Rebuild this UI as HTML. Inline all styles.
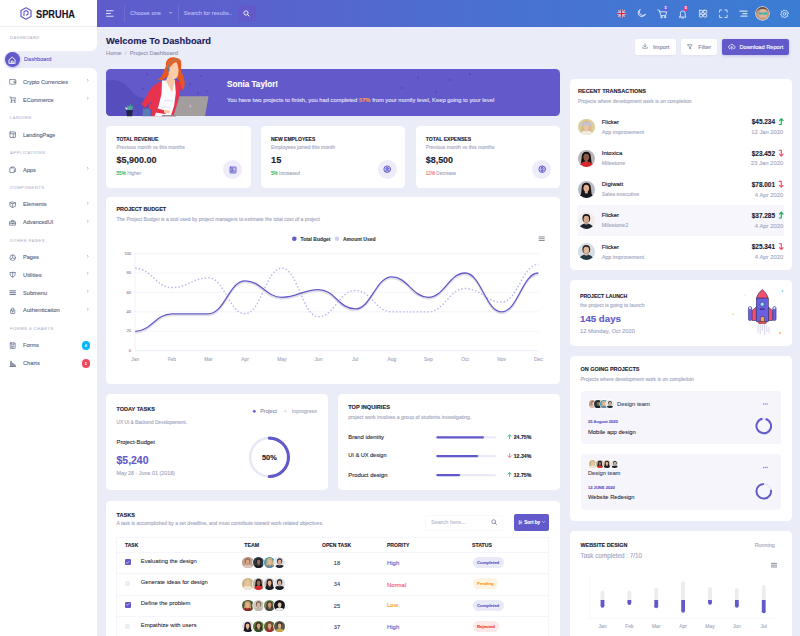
<!DOCTYPE html>
<html><head><meta charset="utf-8">
<style>
*{margin:0;padding:0;box-sizing:border-box}
html,body{width:800px;height:636px;overflow:hidden}
body{background:#eaedf7;font-family:"Liberation Sans",sans-serif;position:relative;color:#1d212f}
.a{position:absolute}
.t{position:absolute;white-space:nowrap;line-height:1;-webkit-text-stroke:.12px currentColor}
.card{position:absolute;background:#fff;border-radius:4.5px}
svg{position:absolute;overflow:visible}
.av{position:absolute;border-radius:50%;overflow:hidden}
</style></head><body>

<!-- SIDEBAR -->
<div class="a" style="left:0;top:0;width:97px;height:636px;background:#fff"></div>
<div class="a" style="left:5px;top:50.500px;width:92px;height:17.500px;background:#eaedf7;border-radius:9px 0 0 9px"></div>
<div class="a" style="left:90px;top:43.500px;width:7px;height:7px;background:#eaedf7"></div>
<div class="a" style="left:90px;top:43.500px;width:7px;height:7px;background:#fff;border-bottom-right-radius:6.500px"></div>
<div class="a" style="left:90px;top:68px;width:7px;height:7px;background:#eaedf7"></div>
<div class="a" style="left:90px;top:68px;width:7px;height:7px;background:#fff;border-top-right-radius:6.500px"></div>
<div class="a" style="left:0;top:26px;width:97px;height:1px;background:#eef0f6"></div>
<svg style="left:20px;top:7px" width="12" height="13" viewBox="0 0 24 26"><path d="M12 1.5 22 7v12l-10 5.5L2 19V7z" fill="none" stroke="#6259ca" stroke-width="2.4" stroke-linejoin="round"/><path d="M8 18V9.500l4-2.300 4 2.300v5l-4 2.200" fill="none" stroke="#6259ca" stroke-width="2.200" stroke-linejoin="round"/></svg>
<div class="a" style="left:5px;top:52.400px;width:14.800px;height:14.800px;border-radius:50%;background:#6259ca;box-shadow:0 1px 3px rgba(98,89,202,.45)"></div>
<svg style="left:8.200px;top:55.600px" width="8.400" height="8.400" viewBox="0 0 16 16" fill="none" stroke="#fff" stroke-width="1.700" stroke-linejoin="round" stroke-linecap="round"><path d="M2.500 7 8 2.200 13.500 7v7h-11z"/><path d="M6.300 14v-4.200h3.400V14"/></svg>
<div class="a" style="left:81.500px;top:341.300px;width:8.500px;height:8.500px;border-radius:50%;background:#01b8ff"></div>
<div class="a" style="left:81.500px;top:359.300px;width:8.500px;height:8.500px;border-radius:50%;background:#f4475e"></div>
<svg style="left:8.50px;top:78.30px" width="7.40" height="7.40" viewBox="0 0 24 24" fill="none" stroke="#5c6883" stroke-width="2.200" stroke-linejoin="round" stroke-linecap="round"><rect x="2" y="5" width="20" height="15" rx="2"/><path d="M22 10h-6v5h6"/></svg>
<svg style="left:8.50px;top:96.30px" width="7.40" height="7.40" viewBox="0 0 24 24" fill="none" stroke="#5c6883" stroke-width="2.200" stroke-linejoin="round" stroke-linecap="round"><path d="M3 3h3l2 11h11l2-8H7"/><path d="M8 14v6M19 14v6M6 20h4M17 20h4"/></svg>
<svg style="left:8.50px;top:131.05px" width="7.40" height="7.40" viewBox="0 0 24 24" fill="none" stroke="#5c6883" stroke-width="2.200" stroke-linejoin="round" stroke-linecap="round"><rect x="3" y="3" width="18" height="18" rx="1"/><path d="M3 9h18M14 9v12"/></svg>
<svg style="left:8.50px;top:166.05px" width="7.40" height="7.40" viewBox="0 0 24 24" fill="none" stroke="#5c6883" stroke-width="2.200" stroke-linejoin="round" stroke-linecap="round"><path d="M8 6V3h8l5 5v10h-4"/><path d="M4 6h10l3 3v12H4z"/></svg>
<svg style="left:8.50px;top:200.80px" width="7.40" height="7.40" viewBox="0 0 24 24" fill="none" stroke="#5c6883" stroke-width="2.200" stroke-linejoin="round" stroke-linecap="round"><path d="M12 3l9 3v11l-9 4-9-4V6z"/><path d="M3 6l9 3 9-3M12 9v12"/></svg>
<svg style="left:8.50px;top:218.55px" width="7.40" height="7.40" viewBox="0 0 24 24" fill="none" stroke="#5c6883" stroke-width="2.200" stroke-linejoin="round" stroke-linecap="round"><path d="M3 9h18v11H3z"/><path d="M8 9V5h8v4M3 14h18M10 14v2h4v-2"/></svg>
<svg style="left:8.50px;top:253.55px" width="7.40" height="7.40" viewBox="0 0 24 24" fill="none" stroke="#5c6883" stroke-width="2.200" stroke-linejoin="round" stroke-linecap="round"><circle cx="12" cy="12" r="9"/><path d="M12 3v9l7 5M12 12l-7 5"/></svg>
<svg style="left:8.50px;top:271.30px" width="7.40" height="7.40" viewBox="0 0 24 24" fill="none" stroke="#5c6883" stroke-width="2.200" stroke-linejoin="round" stroke-linecap="round"><path d="M12 3v18M4 5v6c0 5 4 8 8 8s8-3 8-8V5M4 5h16"/></svg>
<svg style="left:8.50px;top:289.05px" width="7.40" height="7.40" viewBox="0 0 24 24" fill="none" stroke="#5c6883" stroke-width="2.200" stroke-linejoin="round" stroke-linecap="round"><path d="M3 6h18M3 12h18M3 18h18" stroke-width="3"/></svg>
<svg style="left:8.50px;top:306.80px" width="7.40" height="7.40" viewBox="0 0 24 24" fill="none" stroke="#5c6883" stroke-width="2.200" stroke-linejoin="round" stroke-linecap="round"><rect x="5" y="10" width="14" height="11" rx="2"/><path d="M8 10V7a4 4 0 0 1 8 0v3"/><circle cx="12" cy="15.500" r="1.300"/></svg>
<svg style="left:8.50px;top:341.80px" width="7.40" height="7.40" viewBox="0 0 24 24" fill="none" stroke="#5c6883" stroke-width="2.200" stroke-linejoin="round" stroke-linecap="round"><rect x="4" y="3" width="16" height="18" rx="1"/><path d="M8 3v6h8V3M8 14h8M8 17h5"/></svg>
<svg style="left:8.50px;top:359.80px" width="7.40" height="7.40" viewBox="0 0 24 24" fill="none" stroke="#5c6883" stroke-width="2.200" stroke-linejoin="round" stroke-linecap="round"><path d="M3 21h18M5 21V4h3v17M11 21V10h3v11M17 21v-6h3v6"/></svg>
<svg style="left:87.20px;top:79.40px" width="1.80" height="2.70" viewBox="0 0 4 6" ><path d="M.8.8 3 3 .8 5.200" fill="none" stroke="#8a93ab" stroke-width="1.300" stroke-linecap="round" stroke-linejoin="round"/></svg>
<svg style="left:87.20px;top:97.40px" width="1.80" height="2.70" viewBox="0 0 4 6" ><path d="M.8.8 3 3 .8 5.200" fill="none" stroke="#8a93ab" stroke-width="1.300" stroke-linecap="round" stroke-linejoin="round"/></svg>
<svg style="left:87.20px;top:167.20px" width="1.80" height="2.70" viewBox="0 0 4 6" ><path d="M.8.8 3 3 .8 5.200" fill="none" stroke="#8a93ab" stroke-width="1.300" stroke-linecap="round" stroke-linejoin="round"/></svg>
<svg style="left:87.20px;top:201.90px" width="1.80" height="2.70" viewBox="0 0 4 6" ><path d="M.8.8 3 3 .8 5.200" fill="none" stroke="#8a93ab" stroke-width="1.300" stroke-linecap="round" stroke-linejoin="round"/></svg>
<svg style="left:87.20px;top:219.70px" width="1.80" height="2.70" viewBox="0 0 4 6" ><path d="M.8.8 3 3 .8 5.200" fill="none" stroke="#8a93ab" stroke-width="1.300" stroke-linecap="round" stroke-linejoin="round"/></svg>
<svg style="left:87.20px;top:254.70px" width="1.80" height="2.70" viewBox="0 0 4 6" ><path d="M.8.8 3 3 .8 5.200" fill="none" stroke="#8a93ab" stroke-width="1.300" stroke-linecap="round" stroke-linejoin="round"/></svg>
<svg style="left:87.20px;top:272.40px" width="1.80" height="2.70" viewBox="0 0 4 6" ><path d="M.8.8 3 3 .8 5.200" fill="none" stroke="#8a93ab" stroke-width="1.300" stroke-linecap="round" stroke-linejoin="round"/></svg>
<svg style="left:87.20px;top:290.20px" width="1.80" height="2.70" viewBox="0 0 4 6" ><path d="M.8.8 3 3 .8 5.200" fill="none" stroke="#8a93ab" stroke-width="1.300" stroke-linecap="round" stroke-linejoin="round"/></svg>
<svg style="left:87.20px;top:307.90px" width="1.80" height="2.70" viewBox="0 0 4 6" ><path d="M.8.8 3 3 .8 5.200" fill="none" stroke="#8a93ab" stroke-width="1.300" stroke-linecap="round" stroke-linejoin="round"/></svg>


<!-- HEADER -->
<div class="a" style="left:97px;top:0;width:703px;height:26.500px;background:linear-gradient(90deg,#5f5bcc 0%,#5963ce 25%,#4872d2 60%,#3b7dd3 100%)"></div>
<svg style="left:106.00px;top:9.90px" width="8.00" height="7.00" viewBox="0 0 16 14" ><path d="M0 1.500h15M0 7h10M0 12.500h15" stroke="#e6ebfb" stroke-width="1.800" fill="none"/></svg>
<div class="a" style="left:124.200px;top:4.500px;width:.6px;height:17px;background:rgba(255,255,255,.1)"></div><div class="a" style="left:177.800px;top:4.500px;width:.6px;height:17px;background:rgba(255,255,255,.1)"></div><svg style="left:169.30px;top:12.40px" width="3.40" height="2.00" viewBox="0 0 10 6" ><path d="M0 0h10L5 6z" fill="#aaa6e8"/></svg>
<div class="a" style="left:237.500px;top:4.500px;width:18px;height:16.800px;background:#6259ca;border-radius:0 1.500px 1.500px 0"></div><svg style="left:243.20px;top:9.90px" width="6.80" height="6.80" viewBox="0 0 16 16" ><circle cx="7" cy="7" r="5" fill="none" stroke="#fff" stroke-width="2"/><path d="M10.800 10.800 14.500 14.500" stroke="#fff" stroke-width="2.200" stroke-linecap="round"/></svg>
<div class="av" style="left:616.600px;top:8.900px;width:9.200px;height:9.200px;background:rgba(60,80,180,.35)"><svg style="left:0;top:0" width="9.200" height="9.200" viewBox="0 0 20 20"><path d="M2 2 18 18M18 2 2 18" stroke="#e9ecf8" stroke-width="2.600"/><path d="M2 2 18 18M18 2 2 18" stroke="#e8435a" stroke-width=".9"/><path d="M10 0v20M0 10h20" stroke="#f0f2fb" stroke-width="4.600"/><path d="M10 0v20M0 10h20" stroke="#ee1f3a" stroke-width="2.900"/></svg></div><svg style="left:0;top:0" width="800" height="28" viewBox="0 0 800 28" fill="none" stroke="rgba(255,255,255,.74)" stroke-width="1" stroke-linecap="round" stroke-linejoin="round"><path d="M645.300 14.500A3.750 3.750 0 1 1 640.300 9.500 3.100 3.100 0 0 0 645.300 14.500z"/><path d="M657.700 10.100h1.600l1.600 5.500h4.700l1.100-3.800h-6.900"/><circle cx="661.400" cy="17.100" r=".7"/><circle cx="665" cy="17.100" r=".7"/><path d="M680.400 16.200v-2.900a2.400 2.400 0 0 1 4.800 0v2.900l.9.900h-6.600z"/><path d="M682 18h1.600"/><rect x="699.4" y="10.3" width="3.100" height="2.800" rx=".4"/><rect x="699.4" y="14.2" width="3.100" height="2.800" rx=".4"/><rect x="703.6" y="10.3" width="3.100" height="2.800" rx=".4"/><rect x="703.6" y="14.2" width="3.100" height="2.800" rx=".4"/><path d="M719.600 12.200V10h2.200M724.900 10h2.200v2.200M727.100 15.300v2.200h-2.200M721.800 17.500h-2.200v-2.200"/><path d="M739.800 11.100h7.300M742.800 13.600h4.300M740.800 16.100h6.300" stroke-width="1.050"/><path d="M788.33 13.14L788.40 13.90L787.49 14.50L787.32 15.07L787.74 16.07L787.26 16.66L786.19 16.44L785.67 16.72L785.26 17.73L784.50 17.80L783.90 16.89L783.33 16.72L782.33 17.14L781.74 16.66L781.96 15.59L781.68 15.07L780.67 14.66L780.60 13.90L781.51 13.30L781.68 12.73L781.26 11.73L781.74 11.14L782.81 11.36L783.33 11.08L783.74 10.07L784.50 10.00L785.10 10.91L785.67 11.08L786.67 10.66L787.26 11.14L787.04 12.21L787.32 12.73z" stroke-width=".9"/><circle cx="784.500" cy="13.900" r="1.350" stroke-width=".9"/></svg><div class="a" style="left:663.100px;top:5.600px;width:5px;height:5px;border-radius:50%;background:#6f55e0"></div><div class="a" style="left:683.400px;top:5.600px;width:5px;height:5px;border-radius:50%;background:#f1388b"></div><div class="av" style="left:755.800px;top:6.700px;width:13.300px;height:13.300px;background:#c9a88e;box-shadow:0 0 0 .7px rgba(255,255,255,.85)"><svg style="left:0;top:0" width="13.300" height="13.300" viewBox="0 0 20 20"><rect width="20" height="20" fill="#b89a86"/><path d="M0 0h20v9c-2-5-5-6.500-10-6.500S2 4 0 9z" fill="#6b4630"/><ellipse cx="10.500" cy="11" rx="6.500" ry="8" fill="#e0b193"/><path d="M4 8.500c2-1 4.500-1 6 .2 1.500-1.200 4.500-1.200 7-.2l-.5 2.800c-2 .8-4.500.6-6-.8-1.500 1.400-4 1.600-6 .8z" fill="#3fb5b0"/><path d="M7 16c2 1.500 5 1.500 7 0" stroke="#b07a62" stroke-width="1" fill="none"/></svg></div>

<!-- BUTTONS -->
<div class="card" style="left:635px;top:38.500px;width:41px;height:16.500px;border-radius:2px;box-shadow:0 1px 2px rgba(160,165,200,.12)"></div>
<div class="card" style="left:680.500px;top:38.500px;width:36.500px;height:16.500px;border-radius:2px;box-shadow:0 1px 2px rgba(160,165,200,.12)"></div>
<div class="card" style="left:722px;top:38.500px;width:67px;height:16.500px;border-radius:2px;background:#6259ca;box-shadow:0 1px 3px rgba(98,89,202,.3)"></div>
<svg style="left:641.60px;top:43.40px" width="6.00" height="6.00" viewBox="0 0 24 24" fill="none" stroke="#5d6284" stroke-width="2.300" stroke-linecap="round" stroke-linejoin="round"><path d="M12 3v12M7 10l5 5 5-5M3 17v4h18v-4"/></svg>
<svg style="left:687.20px;top:43.60px" width="6.00" height="6.00" viewBox="0 0 24 24" fill="none" stroke="#5d6284" stroke-width="2.300" stroke-linecap="round" stroke-linejoin="round"><path d="M3 3h18l-7 9v8l-4-2v-6z"/></svg>
<svg style="left:727.60px;top:42.80px" width="7.60" height="7.60" viewBox="0 0 24 24" fill="none" stroke="#fff" stroke-width="2.200" stroke-linecap="round" stroke-linejoin="round"><path d="M7 18a5 5 0 0 1-.5-10A6 6 0 0 1 18 9a4.500 4.500 0 0 1 0 9h-1"/><path d="M12 20v-8M9 14.500l3-3 3 3"/></svg>


<!-- BANNER -->
<div class="a" style="left:106px;top:68.750px;width:453.500px;height:47.500px;border-radius:4.500px;background:#6259ca;overflow:hidden">
  <svg style="left:0;top:0" width="120" height="48" viewBox="0 0 120 48"><path d="M0 12c6-2 14-1 20 4s8 12 17 13 10 9 12 19H0z" fill="#564ebc"/></svg>
</div>
<svg style="left:0;top:0" width="800" height="636" viewBox="0 0 800 636"><circle cx="147.0" cy="74.5" r=".9" fill="#5149b3"/><circle cx="143.0" cy="88.5" r=".9" fill="#5149b3"/><circle cx="198.0" cy="93.0" r=".9" fill="#5149b3"/><circle cx="201.0" cy="76.0" r=".9" fill="#5149b3"/><circle cx="207.0" cy="91.5" r=".9" fill="#5149b3"/><circle cx="190.0" cy="84.5" r=".9" fill="#5149b3"/><circle cx="418.0" cy="77.5" r=".9" fill="#5149b3"/><circle cx="450.0" cy="80.0" r=".9" fill="#5149b3"/><circle cx="436.0" cy="92.0" r=".9" fill="#5149b3"/><circle cx="470.0" cy="74.0" r=".9" fill="#5149b3"/><circle cx="402.0" cy="88.0" r=".9" fill="#5149b3"/><path d="M126.200 110h6.600l-.7 6.200h-5.200z" fill="#1f2249"/><path d="M127 110l-1.700-3.200 2 .6.300-2.600 1.600 2.200 1.200-3.400 1 3.200 1.800-1-1 4.200z" fill="#4ea69a"/><path d="M126.500 110l-1.600-2.800 2.600 1z" fill="#e9eef5"/><path d="M143 108.500h7.200l.4 7.700h-8z" fill="#5b7bb4"/><path d="M144.500 108.500c0-4 4.400-4 4.400 0" fill="none" stroke="#3c4a86" stroke-width=".7"/><path d="M166 66c-1-6 4-9.500 9-8.500s7 5 6 10c-.5 4 2 7 3 11s1 9-1 11.500c-2-3-3-6-3.500-9.500l-5-4-8 .5c-2 2.500-5 3.500-9 3 2-2 4-3 5-5.500s2-5 3.500-8.500z" fill="#e8561f"/><path d="M161 81l-7 4.500c-3 2-5 6-7.500 10.500l-5 8 3.500 4 7-7.500-1 15.700h25l3-20 2-8c.5-3-.5-6-3-7.500z" fill="#e8334f"/><path d="M162 80.500L174.800 80.500 175.800 93 174.200 105.500 170.700 116.200H154.500L158.500 106 161.500 94z" fill="#fbfbfd"/><path d="M164 101c3-1 6-1 9 .5M161 108c3-1.500 7-1.500 10 0" stroke="#dfe6f3" stroke-width="1.200" fill="none"/><path d="M169 74l-3.200 6.500 6.200 12 3.200-12z" fill="#f6c9a4"/><path d="M168.700 66c1-3 5-4.500 8-3.500 1.500 3 2.300 7 1.600 11-.4 3-2 5.500-4.300 5.500s-4.600-2.500-5.300-5.500c-.5-2.500-.5-5 0-7.500z" fill="#f8cfaa"/><path d="M167 70c-1.500-5 1-10 6-11.500s8 1 8.500 4c-3-1.500-6.500-.5-8.500 1.500s-3.500 4-6 6z" fill="#ee6424"/><path d="M168.200 68.500c0-6 5-9.500 10.500-8" fill="none" stroke="#7b7f8c" stroke-width=".9"/><rect x="167" y="67.500" width="2.600" height="4.200" rx="1" fill="#6e7a8a"/><path d="M150 103l6 5 9 2.500 2.500 2-3 1.500-9-1.500-7.500-5z" fill="#e8334f"/><path d="M164 110l5 .3 1.500 1.800-2 1.400-4.500-.8z" fill="#f6c9a4"/><path d="M179.500 96.300h28.200c.5 0 .8.400.7.900l-3.200 17.800c-.1.600-.6 1-1.200 1H173.500z" fill="#a39d9e"/><rect x="162" y="115" width="14" height="1.200" fill="#8f8a8c"/><circle cx="190.300" cy="106.300" r="1" fill="#c9c4c5"/></svg>


<!-- STAT CARDS -->
<div class="card" style="left:106px;top:126.250px;width:144.500px;height:61.600px"></div>
<div class="card" style="left:260.750px;top:126.250px;width:144.500px;height:61.600px"></div>
<div class="card" style="left:415.500px;top:126.250px;width:144px;height:61.600px"></div>
<div class="a" style="left:223.00px;top:160px;width:19px;height:19px;border-radius:50%;background:#eeecfa"></div><div class="a" style="left:377.50px;top:160px;width:19px;height:19px;border-radius:50%;background:#eeecfa"></div><div class="a" style="left:532.25px;top:160px;width:19px;height:19px;border-radius:50%;background:#eeecfa"></div><svg style="left:228.50px;top:165.50px" width="8.00" height="8.00" viewBox="0 0 24 24" fill="rgba(98,89,202,.28)" stroke="#6259ca" stroke-width="2.500" stroke-linejoin="round" stroke-linecap="round"><rect x="3" y="3" width="18" height="18" rx="1.500"/><path d="M7 17v-5M11 17V8M15 17v-3M7 7h3"/></svg>
<svg style="left:382.80px;top:165.30px" width="8.40" height="8.40" viewBox="0 0 24 24" fill="rgba(98,89,202,.28)" stroke="#6259ca" stroke-width="2.500" stroke-linejoin="round" stroke-linecap="round"><circle cx="12" cy="12" r="9.500"/><circle cx="12" cy="10" r="3.200"/><path d="M6 18.500c1.500-3 4-4 6-4s4.500 1 6 4"/></svg>
<svg style="left:537.55px;top:165.30px" width="8.40" height="8.40" viewBox="0 0 24 24" fill="rgba(98,89,202,.28)" stroke="#6259ca" stroke-width="2.500" stroke-linejoin="round" stroke-linecap="round"><circle cx="12" cy="12" r="9.500"/><path d="M15 9c-.5-1.300-1.600-2-3-2-1.800 0-3 1-3 2.400 0 3.200 6 1.600 6 5 0 1.500-1.300 2.600-3 2.600-1.600 0-2.800-.8-3.200-2.200M12 5v2M12 17v2"/></svg>


<!-- PROJECT BUDGET -->
<div class="card" style="left:106px;top:197px;width:453.500px;height:186.500px"></div>
<svg style="left:0;top:0" width="800" height="636" viewBox="0 0 800 636"><path d="M135 253.60H539" stroke="#e9e9f7" stroke-width=".5"/><path d="M135 273.02H539" stroke="#e9e9f7" stroke-width=".5"/><path d="M135 292.44H539" stroke="#e9e9f7" stroke-width=".5"/><path d="M135 311.86H539" stroke="#e9e9f7" stroke-width=".5"/><path d="M135 331.28H539" stroke="#e9e9f7" stroke-width=".5"/><path d="M135 350.70H539" stroke="#dcdcf2" stroke-width=".5"/><path d="M135 253.600V350.700" stroke="#e3e3f5" stroke-width=".5"/><path d="M135.20 268.16C151.13 268.16 155.92 287.58 171.85 287.58C187.78 287.58 192.57 277.88 208.50 277.88C224.43 277.88 229.22 313.80 245.15 313.80C261.08 313.80 265.87 268.16 281.80 268.16C297.73 268.16 302.52 316.71 318.45 316.71C334.38 316.71 339.17 290.50 355.10 290.50C371.03 290.50 375.82 311.86 391.75 311.86C407.68 311.86 412.47 311.86 428.40 311.86C444.33 311.86 449.12 288.56 465.05 288.56C480.98 288.56 485.77 302.15 501.70 302.15C517.63 302.15 522.42 264.28 538.35 264.28" fill="none" stroke="#bcb8ea" stroke-width="1.450" stroke-dasharray="1.500 2" stroke-linecap="butt"/><path d="M135.20 331.28C151.13 331.28 155.92 313.80 171.85 313.80C187.78 313.80 192.57 313.80 208.50 313.80C224.43 313.80 229.22 280.79 245.15 280.79C261.08 280.79 265.87 297.29 281.80 297.29C297.73 297.29 302.52 289.53 318.45 289.53C334.38 289.53 339.17 308.95 355.10 308.95C371.03 308.95 375.82 276.90 391.75 276.90C407.68 276.90 412.47 297.29 428.40 297.29C444.33 297.29 449.12 273.02 465.05 273.02C480.98 273.02 485.77 311.86 501.70 311.86C517.63 311.86 522.42 273.02 538.35 273.02" fill="none" stroke="#d5d5de" stroke-width="1.600" transform="translate(0,1.600)" opacity=".75"/><path d="M135.20 331.28C151.13 331.28 155.92 313.80 171.85 313.80C187.78 313.80 192.57 313.80 208.50 313.80C224.43 313.80 229.22 280.79 245.15 280.79C261.08 280.79 265.87 297.29 281.80 297.29C297.73 297.29 302.52 289.53 318.45 289.53C334.38 289.53 339.17 308.95 355.10 308.95C371.03 308.95 375.82 276.90 391.75 276.90C407.68 276.90 412.47 297.29 428.40 297.29C444.33 297.29 449.12 273.02 465.05 273.02C480.98 273.02 485.77 311.86 501.70 311.86C517.63 311.86 522.42 273.02 538.35 273.02" fill="none" stroke="#6259ca" stroke-width="1.300"/><circle cx="294.300" cy="238.800" r="2.300" fill="#6259ca"/><circle cx="337" cy="238.800" r="2.300" fill="#d0cff0"/><path d="M538.700 236.900h6M538.700 238.700h6M538.700 240.500h6" stroke="#6e7687" stroke-width=".8"/></svg>


<!-- TODAY TASKS / TOP INQ -->
<div class="card" style="left:106px;top:394.250px;width:222px;height:96px"></div>
<div class="card" style="left:338px;top:394.250px;width:221.500px;height:96px"></div>
<svg style="left:0;top:0" width="800" height="636" viewBox="0 0 800 636"><circle cx="254.300" cy="411.300" r="1.400" fill="#6259ca"/><circle cx="285.500" cy="411.300" r="1.400" fill="#e3e5f2"/><circle cx="269.300" cy="457.300" r="19.200" fill="none" stroke="#e7e8f5" stroke-width="2.500"/><path d="M269.300 438.100a19.200 19.200 0 0 1 0 38.400" fill="none" stroke="#6259ca" stroke-width="3.100" stroke-linecap="round"/><path d="M437.400 437.30H494.800" stroke="#e9eaf6" stroke-width="2.300" stroke-linecap="round"/><path d="M437.400 437.30H482.90" stroke="#6259ca" stroke-width="2.300" stroke-linecap="round"/><path d="M509.60 438.50v-3.400M508.00 436.40l1.600-1.700 1.600 1.700" fill="none" stroke="#3fc380" stroke-width="1" stroke-linecap="round" stroke-linejoin="round"/><path d="M437.400 456.10H494.800" stroke="#e9eaf6" stroke-width="2.300" stroke-linecap="round"/><path d="M437.400 456.10H477.15" stroke="#6259ca" stroke-width="2.300" stroke-linecap="round"/><path d="M509.60 453.70v3.400M508.00 455.80l1.600 1.700 1.600-1.700" fill="none" stroke="#f47f8b" stroke-width="1" stroke-linecap="round" stroke-linejoin="round"/><path d="M437.400 475.10H494.800" stroke="#e9eaf6" stroke-width="2.300" stroke-linecap="round"/><path d="M437.400 475.10H459.15" stroke="#6259ca" stroke-width="2.300" stroke-linecap="round"/><path d="M509.60 476.30v-3.400M508.00 474.20l1.600-1.700 1.600 1.700" fill="none" stroke="#3fc380" stroke-width="1" stroke-linecap="round" stroke-linejoin="round"/></svg>


<!-- TASKS TABLE -->
<div class="card" style="left:106px;top:500.750px;width:453.500px;height:150px"></div>
<div class="a" style="left:116.250px;top:537px;width:433px;height:120px;border:1px solid #f5f6fb"></div><div class="a" style="left:116.250px;top:552.00px;width:433px;height:1px;background:#f5f6fb"></div><div class="a" style="left:116.250px;top:573.30px;width:433px;height:1px;background:#f5f6fb"></div><div class="a" style="left:116.250px;top:594.60px;width:433px;height:1px;background:#f5f6fb"></div><div class="a" style="left:116.250px;top:616.20px;width:433px;height:1px;background:#f5f6fb"></div><div class="a" style="left:425px;top:514.500px;width:78px;height:16px;border:1px solid #f8f8fc;border-radius:2px"></div><svg style="left:490.80px;top:519.00px" width="6.20" height="6.20" viewBox="0 0 16 16" ><circle cx="7" cy="7" r="5" fill="none" stroke="#6f7592" stroke-width="2"/><path d="M10.800 10.800 14.500 14.500" stroke="#6f7592" stroke-width="2.100" stroke-linecap="round"/></svg>
<div class="a" style="left:513.750px;top:514px;width:35.500px;height:16.500px;border-radius:2px;background:#6259ca"></div><svg style="left:517.60px;top:519.80px" width="4.60" height="4.80" viewBox="0 0 12 12" ><path d="M1 2.500h10M1 6h10M1 9.500h10" stroke="#fff" stroke-width="1.300"/><circle cx="4" cy="2.500" r="1.500" fill="#fff"/><circle cx="8" cy="6" r="1.500" fill="#fff"/><circle cx="4" cy="9.500" r="1.500" fill="#fff"/></svg>
<svg style="left:542.00px;top:521.30px" width="3.20" height="2.00" viewBox="0 0 8 5" ><path d="M.8.800 4 4 7.200.800" fill="none" stroke="#fff" stroke-width="1.300" stroke-linecap="round" stroke-linejoin="round"/></svg>
<div class="a" style="left:124.700px;top:559.20px;width:6px;height:6px;border-radius:1.200px;background:#6259ca"></div><svg style="left:126.00px;top:560.70px" width="3.40" height="3.00" viewBox="0 0 8 7" ><path d="M1 3.500 3 5.500 7 1.300" fill="none" stroke="#fff" stroke-width="1.500" stroke-linecap="round" stroke-linejoin="round"/></svg>
<div class="av" style="left:242.40px;top:557.10px;width:11.20px;height:11.20px;background:#c39c88;box-shadow:0 0 0 .7px #fff;"><svg style="left:0;top:0" width="11.20" height="11.20" viewBox="0 0 20 20"><ellipse cx="10" cy="20" rx="8.500" ry="6" fill="#d8c8c0"/><rect x="8.300" y="11" width="3.400" height="4" fill="#d9a58a"/><ellipse cx="10" cy="7.600" rx="4.700" ry="5.200" fill="#8a6a55"/><ellipse cx="10" cy="8.800" rx="3.400" ry="4.200" fill="#d9a58a"/></svg></div>
<div class="av" style="left:253.00px;top:557.10px;width:11.20px;height:11.20px;background:#2a3a44;box-shadow:0 0 0 .7px #fff;"><svg style="left:0;top:0" width="11.20" height="11.20" viewBox="0 0 20 20"><ellipse cx="10" cy="20" rx="8.500" ry="6" fill="#1a1e24"/><rect x="8.300" y="11" width="3.400" height="4" fill="#8a6a58"/><ellipse cx="10" cy="7.600" rx="4.700" ry="5.200" fill="#15181c"/><ellipse cx="10" cy="8.800" rx="3.400" ry="4.200" fill="#8a6a58"/></svg></div>
<div class="av" style="left:263.60px;top:557.10px;width:11.20px;height:11.20px;background:#4a9ab0;box-shadow:0 0 0 .7px #fff;"><svg style="left:0;top:0" width="11.20" height="11.20" viewBox="0 0 20 20"><path d="M4.500 8c0-4 2.500-6 5.500-6s5.500 2 5.500 6l1 9H3.500z" fill="#d4b070"/><ellipse cx="10" cy="20" rx="8.500" ry="6" fill="#6a8aa0"/><rect x="8.300" y="11" width="3.400" height="4" fill="#e0b896"/><ellipse cx="10" cy="8.800" rx="3.400" ry="4.200" fill="#e0b896"/></svg></div>
<div class="av" style="left:274.20px;top:557.10px;width:11.20px;height:11.20px;background:#e4e6ea;box-shadow:0 0 0 .7px #fff;"><svg style="left:0;top:0" width="11.20" height="11.20" viewBox="0 0 20 20"><ellipse cx="10" cy="20" rx="8.500" ry="6" fill="#1e2a34"/><rect x="8.300" y="11" width="3.400" height="4" fill="#d8b098"/><ellipse cx="10" cy="7.600" rx="4.700" ry="5.200" fill="#2a2a30"/><ellipse cx="10" cy="8.800" rx="3.400" ry="4.200" fill="#d8b098"/></svg></div>
<div class="a" style="left:472.500px;top:557.00px;width:31.25px;height:11.200px;border-radius:5.600px;background:#eae9f8"></div><div class="a" style="left:124.700px;top:580.70px;width:5.600px;height:5.600px;border-radius:1.200px;background:#eceef6"></div><div class="av" style="left:242.40px;top:578.40px;width:11.20px;height:11.20px;background:#cbb78a;box-shadow:0 0 0 .7px #fff;"><svg style="left:0;top:0" width="11.20" height="11.20" viewBox="0 0 20 20"><path d="M4.500 8c0-4 2.500-6 5.500-6s5.500 2 5.500 6l1 9H3.500z" fill="#d8c090"/><ellipse cx="10" cy="20" rx="8.500" ry="6" fill="#efe6d6"/><rect x="8.300" y="11" width="3.400" height="4" fill="#e8c6a4"/><ellipse cx="10" cy="8.800" rx="3.400" ry="4.200" fill="#e8c6a4"/></svg></div>
<div class="av" style="left:253.00px;top:578.40px;width:11.20px;height:11.20px;background:#b8b2ae;box-shadow:0 0 0 .7px #fff;"><svg style="left:0;top:0" width="11.20" height="11.20" viewBox="0 0 20 20"><path d="M4.500 8c0-4 2.500-6 5.500-6s5.500 2 5.500 6l1 9H3.500z" fill="#1a1512"/><ellipse cx="10" cy="20" rx="8.500" ry="6" fill="#d42a2a"/><rect x="8.300" y="11" width="3.400" height="4" fill="#9a6a50"/><ellipse cx="10" cy="8.800" rx="3.400" ry="4.200" fill="#9a6a50"/></svg></div>
<div class="av" style="left:263.60px;top:578.40px;width:11.20px;height:11.20px;background:#c8c2c0;box-shadow:0 0 0 .7px #fff;"><svg style="left:0;top:0" width="11.20" height="11.20" viewBox="0 0 20 20"><path d="M4.500 8c0-4 2.500-6 5.500-6s5.500 2 5.500 6l1 9H3.500z" fill="#2a1a18"/><ellipse cx="10" cy="20" rx="8.500" ry="6" fill="#1c1c26"/><rect x="8.300" y="11" width="3.400" height="4" fill="#e0b294"/><ellipse cx="10" cy="8.800" rx="3.400" ry="4.200" fill="#e0b294"/></svg></div>
<div class="av" style="left:274.20px;top:578.40px;width:11.20px;height:11.20px;background:#dadde4;box-shadow:0 0 0 .7px #fff;"><svg style="left:0;top:0" width="11.20" height="11.20" viewBox="0 0 20 20"><ellipse cx="10" cy="20" rx="8.500" ry="6" fill="#1a1d26"/><rect x="8.300" y="11" width="3.400" height="4" fill="#d9ae92"/><ellipse cx="10" cy="7.600" rx="4.700" ry="5.200" fill="#15161c"/><ellipse cx="10" cy="8.800" rx="3.400" ry="4.200" fill="#d9ae92"/></svg></div>
<div class="a" style="left:472.500px;top:578.30px;width:25.50px;height:11.200px;border-radius:5.600px;background:#fff3e3"></div><div class="a" style="left:124.700px;top:601.95px;width:6px;height:6px;border-radius:1.200px;background:#6259ca"></div><svg style="left:126.00px;top:603.45px" width="3.40" height="3.00" viewBox="0 0 8 7" ><path d="M1 3.500 3 5.500 7 1.300" fill="none" stroke="#fff" stroke-width="1.500" stroke-linecap="round" stroke-linejoin="round"/></svg>
<div class="av" style="left:242.40px;top:599.85px;width:11.20px;height:11.20px;background:#4a5a3a;box-shadow:0 0 0 .7px #fff;"><svg style="left:0;top:0" width="11.20" height="11.20" viewBox="0 0 20 20"><path d="M4.500 8c0-4 2.500-6 5.500-6s5.500 2 5.500 6l1 9H3.500z" fill="#c9a060"/><ellipse cx="10" cy="20" rx="8.500" ry="6" fill="#8a2a2a"/><rect x="8.300" y="11" width="3.400" height="4" fill="#e2b090"/><ellipse cx="10" cy="8.800" rx="3.400" ry="4.200" fill="#e2b090"/></svg></div>
<div class="av" style="left:253.00px;top:599.85px;width:11.20px;height:11.20px;background:#d0c8c0;box-shadow:0 0 0 .7px #fff;"><svg style="left:0;top:0" width="11.20" height="11.20" viewBox="0 0 20 20"><ellipse cx="10" cy="20" rx="8.500" ry="6" fill="#c0b8b0"/><rect x="8.300" y="11" width="3.400" height="4" fill="#d9b49a"/><ellipse cx="10" cy="7.600" rx="4.700" ry="5.200" fill="#6a5a4a"/><ellipse cx="10" cy="8.800" rx="3.400" ry="4.200" fill="#d9b49a"/></svg></div>
<div class="av" style="left:263.60px;top:599.85px;width:11.20px;height:11.20px;background:#6a8a5a;box-shadow:0 0 0 .7px #fff;"><svg style="left:0;top:0" width="11.20" height="11.20" viewBox="0 0 20 20"><path d="M4.500 8c0-4 2.500-6 5.500-6s5.500 2 5.500 6l1 9H3.500z" fill="#4a3a2a"/><ellipse cx="10" cy="20" rx="8.500" ry="6" fill="#4a4a3a"/><rect x="8.300" y="11" width="3.400" height="4" fill="#c99878"/><ellipse cx="10" cy="8.800" rx="3.400" ry="4.200" fill="#c99878"/></svg></div>
<div class="av" style="left:274.20px;top:599.85px;width:11.20px;height:11.20px;background:#15171c;box-shadow:0 0 0 .7px #fff;"><svg style="left:0;top:0" width="11.20" height="11.20" viewBox="0 0 20 20"><ellipse cx="10" cy="20" rx="8.500" ry="6" fill="#f0f0f0"/><rect x="8.300" y="11" width="3.400" height="4" fill="#e0c8b0"/><ellipse cx="10" cy="7.600" rx="4.700" ry="5.200" fill="#15151a"/><ellipse cx="10" cy="8.800" rx="3.400" ry="4.200" fill="#e0c8b0"/></svg></div>
<div class="a" style="left:472.500px;top:599.75px;width:31.25px;height:11.200px;border-radius:5.600px;background:#eae9f8"></div><div class="a" style="left:124.700px;top:623.50px;width:5.600px;height:5.600px;border-radius:1.200px;background:#eceef6"></div><div class="av" style="left:242.40px;top:621.20px;width:11.20px;height:11.20px;background:#e0dce0;box-shadow:0 0 0 .7px #fff;"><svg style="left:0;top:0" width="11.20" height="11.20" viewBox="0 0 20 20"><path d="M4.500 8c0-4 2.500-6 5.500-6s5.500 2 5.500 6l1 9H3.500z" fill="#1c1418"/><ellipse cx="10" cy="20" rx="8.500" ry="6" fill="#1a1a24"/><rect x="8.300" y="11" width="3.400" height="4" fill="#e6b89c"/><ellipse cx="10" cy="8.800" rx="3.400" ry="4.200" fill="#e6b89c"/></svg></div>
<div class="av" style="left:253.00px;top:621.20px;width:11.20px;height:11.20px;background:#5a7a3a;box-shadow:0 0 0 .7px #fff;"><svg style="left:0;top:0" width="11.20" height="11.20" viewBox="0 0 20 20"><path d="M4.500 8c0-4 2.500-6 5.500-6s5.500 2 5.500 6l1 9H3.500z" fill="#3a2a1a"/><ellipse cx="10" cy="20" rx="8.500" ry="6" fill="#3a4a2a"/><rect x="8.300" y="11" width="3.400" height="4" fill="#c9a080"/><ellipse cx="10" cy="8.800" rx="3.400" ry="4.200" fill="#c9a080"/></svg></div>
<div class="av" style="left:263.60px;top:621.20px;width:11.20px;height:11.20px;background:#4a6a3a;box-shadow:0 0 0 .7px #fff;"><svg style="left:0;top:0" width="11.20" height="11.20" viewBox="0 0 20 20"><path d="M4.500 8c0-4 2.500-6 5.500-6s5.500 2 5.500 6l1 9H3.500z" fill="#8a3a20"/><ellipse cx="10" cy="20" rx="8.500" ry="6" fill="#a03030"/><rect x="8.300" y="11" width="3.400" height="4" fill="#d8a888"/><ellipse cx="10" cy="8.800" rx="3.400" ry="4.200" fill="#d8a888"/></svg></div>
<div class="av" style="left:274.20px;top:621.20px;width:11.20px;height:11.20px;background:#5a5a4a;box-shadow:0 0 0 .7px #fff;"><svg style="left:0;top:0" width="11.20" height="11.20" viewBox="0 0 20 20"><ellipse cx="10" cy="20" rx="8.500" ry="6" fill="#c8a840"/><rect x="8.300" y="11" width="3.400" height="4" fill="#d8b090"/><ellipse cx="10" cy="7.600" rx="4.700" ry="5.200" fill="#3a2a20"/><ellipse cx="10" cy="8.800" rx="3.400" ry="4.200" fill="#d8b090"/></svg></div>
<div class="a" style="left:472.500px;top:621.10px;width:26.75px;height:11.200px;border-radius:5.600px;background:#fde8ea"></div>

<!-- RIGHT COLUMN -->
<div class="card" style="left:570px;top:78.750px;width:221.750px;height:191px"></div>
<div class="card" style="left:570px;top:280.250px;width:221.750px;height:65.250px"></div>
<div class="card" style="left:570px;top:356.250px;width:221.750px;height:164.500px"></div>
<div class="card" style="left:570px;top:530.750px;width:221.750px;height:120px"></div>
<div class="a" style="left:577px;top:205.300px;width:206.800px;height:30.800px;background:#f6f6fc"></div><div class="av" style="left:578.00px;top:118.80px;width:16.60px;height:16.60px;background:#d8cf9c;"><svg style="left:0;top:0" width="16.60" height="16.60" viewBox="0 0 20 20"><path d="M4.500 8c0-4 2.500-6 5.500-6s5.500 2 5.500 6l1 9H3.500z" fill="#d8b98a"/><ellipse cx="10" cy="20" rx="8.500" ry="6" fill="#f1ece2"/><rect x="8.300" y="11" width="3.400" height="4" fill="#e9c6a6"/><ellipse cx="10" cy="8.800" rx="3.400" ry="4.200" fill="#e9c6a6"/><path d="M3 7.500c1-5 13-5 14 0l-2 .8c-3-1.500-7-1.500-10 0z" fill="#c4c2d6"/></svg></div>
<div class="av" style="left:578.00px;top:149.95px;width:16.60px;height:16.60px;background:#b9b4b8;"><svg style="left:0;top:0" width="16.60" height="16.60" viewBox="0 0 20 20"><path d="M4.500 8c0-4 2.500-6 5.500-6s5.500 2 5.500 6l1 9H3.500z" fill="#141010"/><ellipse cx="10" cy="20" rx="8.500" ry="6" fill="#d8262e"/><rect x="8.300" y="11" width="3.400" height="4" fill="#8a5a44"/><ellipse cx="10" cy="8.800" rx="3.400" ry="4.200" fill="#8a5a44"/></svg></div>
<div class="av" style="left:578.00px;top:181.10px;width:16.60px;height:16.60px;background:#b9bcc6;"><svg style="left:0;top:0" width="16.60" height="16.60" viewBox="0 0 20 20"><path d="M4.500 8c0-4 2.500-6 5.500-6s5.500 2 5.500 6l1 9H3.500z" fill="#1e1414"/><ellipse cx="10" cy="20" rx="8.500" ry="6" fill="#15171f"/><rect x="8.300" y="11" width="3.400" height="4" fill="#dfb092"/><ellipse cx="10" cy="8.800" rx="3.400" ry="4.200" fill="#dfb092"/></svg></div>
<div class="av" style="left:578.00px;top:212.25px;width:16.60px;height:16.60px;background:#f1ebec;"><svg style="left:0;top:0" width="16.60" height="16.60" viewBox="0 0 20 20"><ellipse cx="10" cy="20" rx="8.500" ry="6" fill="#1c2230"/><rect x="8.300" y="11" width="3.400" height="4" fill="#d6a988"/><ellipse cx="10" cy="7.600" rx="4.700" ry="5.200" fill="#12141a"/><ellipse cx="10" cy="8.800" rx="3.400" ry="4.200" fill="#d6a988"/></svg></div>
<div class="av" style="left:578.00px;top:243.40px;width:16.60px;height:16.60px;background:#d5dee4;"><svg style="left:0;top:0" width="16.60" height="16.60" viewBox="0 0 20 20"><ellipse cx="10" cy="20" rx="8.500" ry="6" fill="#24383e"/><rect x="8.300" y="11" width="3.400" height="4" fill="#e0b898"/><ellipse cx="10" cy="7.600" rx="4.700" ry="5.200" fill="#2a2422"/><ellipse cx="10" cy="8.800" rx="3.400" ry="4.200" fill="#e0b898"/></svg></div>
<svg style="left:0;top:0" width="800" height="636" viewBox="0 0 800 636"><path d="M779.200 124.50h2.100v-5M779.500 120.60l1.800-1.900 1.800 1.900" fill="none" stroke="#19b159" stroke-width="1.150" stroke-linecap="round" stroke-linejoin="round"/><path d="M779.200 150.25h2.100v5M779.500 154.15l1.800 1.900 1.800-1.900" fill="none" stroke="#f0506e" stroke-width="1.150" stroke-linecap="round" stroke-linejoin="round"/><path d="M779.200 181.40h2.100v5M779.500 185.30l1.800 1.900 1.800-1.900" fill="none" stroke="#f0506e" stroke-width="1.150" stroke-linecap="round" stroke-linejoin="round"/><path d="M779.200 217.95h2.100v-5M779.500 214.05l1.800-1.900 1.800 1.900" fill="none" stroke="#19b159" stroke-width="1.150" stroke-linecap="round" stroke-linejoin="round"/><path d="M779.200 243.70h2.100v5M779.500 247.60l1.800 1.900 1.800-1.900" fill="none" stroke="#f0506e" stroke-width="1.150" stroke-linecap="round" stroke-linejoin="round"/></svg>
<svg style="left:0;top:0" width="800" height="636" viewBox="0 0 800 636"><path d="M758 325v7.500M760.200 324.500v9.500M762.400 325v6M764.600 324.500v10.500M766.800 325.500v6.500M769 327v6.500" stroke="#b7b4da" stroke-width=".55"/><path d="M762.300 289.600c3.200 2.600 5.300 5.600 5.800 8.600h-11.600c.5-3 2.600-6 5.800-8.600z" fill="#f0506e" stroke="#2f2a6b" stroke-width=".6" stroke-linejoin="round"/><path d="M756.300 307l-4.300 3.600v9.900h4.300zM768.300 307l4.300 3.600v9.900h-4.300z" fill="#f0506e" stroke="#2f2a6b" stroke-width=".6" stroke-linejoin="round"/><rect x="756.300" y="298.200" width="12" height="23.300" fill="#6a5fe0" stroke="#2f2a6b" stroke-width=".6"/><circle cx="762.200" cy="304.200" r="2.200" fill="#8fe0ea" stroke="#2f2a6b" stroke-width=".6"/><rect x="759.700" y="308.600" width="5" height="1.100" fill="#2f2a6b"/><rect x="748.400" y="306.600" width="3.300" height="14" rx="1.600" fill="#6a5fe0" stroke="#2f2a6b" stroke-width=".5"/><rect x="772.800" y="306.600" width="3.300" height="14" rx="1.600" fill="#6a5fe0" stroke="#2f2a6b" stroke-width=".5"/><circle cx="750.050" cy="308" r="1.100" fill="#eaf6fb"/><circle cx="774.450" cy="308" r="1.100" fill="#eaf6fb"/><path d="M757.500 321.500h9.600l-1.300 2.200h-7z" fill="#e8503a" stroke="#2f2a6b" stroke-width=".4"/><rect x="760.500" y="316.800" width="3.700" height="4.700" fill="#ffa43a" stroke="#2f2a6b" stroke-width=".45"/><circle cx="782.5" cy="291.0" r=".85" fill="#5bc7e0"/><circle cx="745.3" cy="295.0" r=".85" fill="#ffd7e0"/><circle cx="733.2" cy="314.0" r=".85" fill="#ffd24a"/><circle cx="780.2" cy="333.0" r=".85" fill="#ff7a45"/><circle cx="758.5" cy="285.0" r=".85" fill="#fdf3d0"/><circle cx="738.0" cy="333.0" r=".85" fill="#fdf6e0"/></svg>
<div class="a" style="left:580.500px;top:390.500px;width:200.300px;height:53.800px;border-radius:3px;background:#f6f5fc"></div><div class="a" style="left:580.500px;top:453.500px;width:200.300px;height:56.500px;border-radius:3px;background:#f6f5fc"></div><div class="av" style="left:588.70px;top:400.10px;width:7.80px;height:7.80px;background:#c39c88;box-shadow:0 0 0 .7px #fff;"><svg style="left:0;top:0" width="7.80" height="7.80" viewBox="0 0 20 20"><ellipse cx="10" cy="20" rx="8.500" ry="6" fill="#d8c8c0"/><rect x="8.300" y="11" width="3.400" height="4" fill="#d9a58a"/><ellipse cx="10" cy="7.600" rx="4.700" ry="5.200" fill="#8a6a55"/><ellipse cx="10" cy="8.800" rx="3.400" ry="4.200" fill="#d9a58a"/></svg></div>
<div class="av" style="left:594.40px;top:400.10px;width:7.80px;height:7.80px;background:#2a3a44;box-shadow:0 0 0 .7px #fff;"><svg style="left:0;top:0" width="7.80" height="7.80" viewBox="0 0 20 20"><ellipse cx="10" cy="20" rx="8.500" ry="6" fill="#1a1e24"/><rect x="8.300" y="11" width="3.400" height="4" fill="#8a6a58"/><ellipse cx="10" cy="7.600" rx="4.700" ry="5.200" fill="#15181c"/><ellipse cx="10" cy="8.800" rx="3.400" ry="4.200" fill="#8a6a58"/></svg></div>
<div class="av" style="left:600.10px;top:400.10px;width:7.80px;height:7.80px;background:#4a9ab0;box-shadow:0 0 0 .7px #fff;"><svg style="left:0;top:0" width="7.80" height="7.80" viewBox="0 0 20 20"><path d="M4.500 8c0-4 2.500-6 5.500-6s5.500 2 5.500 6l1 9H3.500z" fill="#d4b070"/><ellipse cx="10" cy="20" rx="8.500" ry="6" fill="#6a8aa0"/><rect x="8.300" y="11" width="3.400" height="4" fill="#e0b896"/><ellipse cx="10" cy="8.800" rx="3.400" ry="4.200" fill="#e0b896"/></svg></div>
<div class="av" style="left:605.80px;top:400.10px;width:7.80px;height:7.80px;background:#e4e6ea;box-shadow:0 0 0 .7px #fff;"><svg style="left:0;top:0" width="7.80" height="7.80" viewBox="0 0 20 20"><ellipse cx="10" cy="20" rx="8.500" ry="6" fill="#1e2a34"/><rect x="8.300" y="11" width="3.400" height="4" fill="#d8b098"/><ellipse cx="10" cy="7.600" rx="4.700" ry="5.200" fill="#2a2a30"/><ellipse cx="10" cy="8.800" rx="3.400" ry="4.200" fill="#d8b098"/></svg></div>
<div class="av" style="left:588.50px;top:460.30px;width:7.80px;height:7.80px;background:#cbb78a;box-shadow:0 0 0 .7px #fff;"><svg style="left:0;top:0" width="7.80" height="7.80" viewBox="0 0 20 20"><path d="M4.500 8c0-4 2.500-6 5.500-6s5.500 2 5.500 6l1 9H3.500z" fill="#d8c090"/><ellipse cx="10" cy="20" rx="8.500" ry="6" fill="#efe6d6"/><rect x="8.300" y="11" width="3.400" height="4" fill="#e8c6a4"/><ellipse cx="10" cy="8.800" rx="3.400" ry="4.200" fill="#e8c6a4"/></svg></div>
<div class="av" style="left:595.90px;top:460.30px;width:7.80px;height:7.80px;background:#b8b2ae;box-shadow:0 0 0 .7px #fff;"><svg style="left:0;top:0" width="7.80" height="7.80" viewBox="0 0 20 20"><path d="M4.500 8c0-4 2.500-6 5.500-6s5.500 2 5.500 6l1 9H3.500z" fill="#1a1512"/><ellipse cx="10" cy="20" rx="8.500" ry="6" fill="#d42a2a"/><rect x="8.300" y="11" width="3.400" height="4" fill="#9a6a50"/><ellipse cx="10" cy="8.800" rx="3.400" ry="4.200" fill="#9a6a50"/></svg></div>
<div class="av" style="left:603.30px;top:460.30px;width:7.80px;height:7.80px;background:#c8c2c0;box-shadow:0 0 0 .7px #fff;"><svg style="left:0;top:0" width="7.80" height="7.80" viewBox="0 0 20 20"><path d="M4.500 8c0-4 2.500-6 5.500-6s5.500 2 5.500 6l1 9H3.500z" fill="#2a1a18"/><ellipse cx="10" cy="20" rx="8.500" ry="6" fill="#1c1c26"/><rect x="8.300" y="11" width="3.400" height="4" fill="#e0b294"/><ellipse cx="10" cy="8.800" rx="3.400" ry="4.200" fill="#e0b294"/></svg></div>
<div class="av" style="left:610.70px;top:460.30px;width:7.80px;height:7.80px;background:#dadde4;box-shadow:0 0 0 .7px #fff;"><svg style="left:0;top:0" width="7.80" height="7.80" viewBox="0 0 20 20"><ellipse cx="10" cy="20" rx="8.500" ry="6" fill="#1a1d26"/><rect x="8.300" y="11" width="3.400" height="4" fill="#d9ae92"/><ellipse cx="10" cy="7.600" rx="4.700" ry="5.200" fill="#15161c"/><ellipse cx="10" cy="8.800" rx="3.400" ry="4.200" fill="#d9ae92"/></svg></div>
<svg style="left:0;top:0" width="800" height="636" viewBox="0 0 800 636"><circle cx="763.50" cy="404.00" r=".7" fill="#8a86d6"/><circle cx="765.30" cy="404.00" r=".7" fill="#8a86d6"/><circle cx="767.10" cy="404.00" r=".7" fill="#8a86d6"/><circle cx="763.50" cy="467.50" r=".7" fill="#8a86d6"/><circle cx="765.30" cy="467.50" r=".7" fill="#8a86d6"/><circle cx="767.10" cy="467.50" r=".7" fill="#8a86d6"/><circle cx="763.75" cy="426.00" r="7.30" fill="none" stroke="#e6e5f6" stroke-width="1.800"/><path d="M765.64 418.95A7.30 7.30 0 1 1 762.46 418.82" fill="none" stroke="#6259ca" stroke-width="1.950"/><circle cx="763.75" cy="491.25" r="7.30" fill="none" stroke="#e6e5f6" stroke-width="1.800"/><path d="M770.94 489.98A7.30 7.30 0 1 1 763.85 483.95" fill="none" stroke="#6259ca" stroke-width="1.950"/></svg>
<svg style="left:0;top:0" width="800" height="636" viewBox="0 0 800 636"><path d="M588 618.300H776" stroke="#ecedf6" stroke-width=".5"/><path d="M589.500 574V618" stroke="#f0f1f8" stroke-width=".5"/><path d="M602.50 600.00V592.65" stroke="#ececf0" stroke-width="3.800" stroke-linecap="round"/><path d="M602.50 600.00V605.85" stroke="#6259ca" stroke-width="3.800" stroke-linecap="butt"/><circle cx="602.50" cy="605.85" r="1.900" fill="#6259ca"/><path d="M629.37 600.00V592.65" stroke="#ececf0" stroke-width="3.800" stroke-linecap="round"/><path d="M629.37 600.00V603.10" stroke="#6259ca" stroke-width="3.800" stroke-linecap="butt"/><circle cx="629.37" cy="603.10" r="1.900" fill="#6259ca"/><path d="M656.24 600.00V589.65" stroke="#ececf0" stroke-width="3.800" stroke-linecap="round"/><path d="M656.24 600.00V606.35" stroke="#6259ca" stroke-width="3.800" stroke-linecap="butt"/><circle cx="656.24" cy="606.35" r="1.900" fill="#6259ca"/><path d="M683.11 600.00V583.15" stroke="#ececf0" stroke-width="3.800" stroke-linecap="round"/><path d="M683.11 600.00V610.85" stroke="#6259ca" stroke-width="3.800" stroke-linecap="butt"/><circle cx="683.11" cy="610.85" r="1.900" fill="#6259ca"/><path d="M709.98 600.00V588.90" stroke="#ececf0" stroke-width="3.800" stroke-linecap="round"/><path d="M709.98 600.00V602.85" stroke="#6259ca" stroke-width="3.800" stroke-linecap="butt"/><circle cx="709.98" cy="602.85" r="1.900" fill="#6259ca"/><path d="M736.85 600.00V590.15" stroke="#ececf0" stroke-width="3.800" stroke-linecap="round"/><path d="M736.85 600.00V605.85" stroke="#6259ca" stroke-width="3.800" stroke-linecap="butt"/><circle cx="736.85" cy="605.85" r="1.900" fill="#6259ca"/><path d="M763.72 600.00V586.90" stroke="#ececf0" stroke-width="3.800" stroke-linecap="round"/><path d="M763.72 600.00V611.35" stroke="#6259ca" stroke-width="3.800" stroke-linecap="butt"/><circle cx="763.72" cy="611.35" r="1.900" fill="#6259ca"/><path d="M771 563.400h6M771 565.200h6M771 567h6" stroke="#6e7687" stroke-width=".8"/></svg>


<div class="t" style="top:9px;font-size:10.800px;color:#14112d;font-weight:bold;left:36.00px;transform-origin:left center;transform:scaleX(0.855);">SPRUHA</div>
<div class="t" style="top:36px;font-size:3.993px;color:#bcc0d3;left:10.00px;letter-spacing:.5px">DASHBOARD</div>
<div class="t" style="top:116px;font-size:4.081px;color:#bcc0d3;left:10.00px;letter-spacing:.5px">LANDING</div>
<div class="t" style="top:151px;font-size:4.120px;color:#bcc0d3;left:10.00px;letter-spacing:.5px">APPLICATIONS</div>
<div class="t" style="top:186px;font-size:4.138px;color:#bcc0d3;left:10.00px;letter-spacing:.5px">COMPONENTS</div>
<div class="t" style="top:239px;font-size:4.123px;color:#bcc0d3;left:10.00px;letter-spacing:.5px">OTHER PAGES</div>
<div class="t" style="top:327px;font-size:4.116px;color:#bcc0d3;left:10.00px;letter-spacing:.5px">FORMS &amp; CHARTS</div>
<div class="t" style="top:57px;font-size:5.626px;color:#6259ca;left:24.00px;">Dashboard</div>
<div class="t" style="top:80px;font-size:5.590px;color:#5c6883;left:23.00px;">Crypto Currencies</div>
<div class="t" style="top:98px;font-size:5.538px;color:#5c6883;left:23.00px;">ECommerce</div>
<div class="t" style="top:133px;font-size:5.518px;color:#5c6883;left:23.00px;">LandingPage</div>
<div class="t" style="top:168px;font-size:5.600px;color:#5c6883;left:23.00px;">Apps</div>
<div class="t" style="top:202px;font-size:5.701px;color:#5c6883;left:23.00px;">Elements</div>
<div class="t" style="top:220px;font-size:5.557px;color:#5c6883;left:23.00px;">AdvancedUI</div>
<div class="t" style="top:255px;font-size:5.609px;color:#5c6883;left:23.00px;">Pages</div>
<div class="t" style="top:273px;font-size:5.808px;color:#5c6883;left:23.00px;">Utilities</div>
<div class="t" style="top:291px;font-size:5.658px;color:#5c6883;left:23.00px;">Submenu</div>
<div class="t" style="top:308px;font-size:5.829px;color:#5c6883;left:23.00px;">Authentication</div>
<div class="t" style="top:343px;font-size:5.614px;color:#5c6883;left:23.00px;">Forms</div>
<div class="t" style="top:361px;font-size:5.707px;color:#5c6883;left:23.00px;">Charts</div>
<div class="t" style="top:345px;font-size:3.400px;color:#fff;font-weight:bold;left:85.75px;transform:translateX(-50%);">4</div>
<div class="t" style="top:7px;font-size:3.000px;color:#fff;font-weight:bold;left:665.60px;transform:translateX(-50%);">5</div>
<div class="t" style="top:7px;font-size:3.000px;color:#fff;font-weight:bold;left:685.90px;transform:translateX(-50%);">5</div>
<div class="t" style="top:363px;font-size:3.400px;color:#fff;font-weight:bold;left:85.75px;transform:translateX(-50%);">3</div>
<div class="t" style="top:11px;font-size:5.758px;color:#bdbaf0;left:130.00px;">Choose one</div>
<div class="t" style="top:11px;font-size:5.732px;color:#bdbaf0;left:183.75px;">Search for results..</div>
<div class="t" style="top:37px;font-size:9.318px;color:#1c1a5e;font-weight:bold;left:106.00px;">Welcome To Dashboard</div>
<div class="t" style="top:51px;font-size:5.837px;color:#8f93b3;left:106.00px;">Home&nbsp; <span style="color:#c3c6d8">/</span> &nbsp;Project Dashboard</div>
<div class="t" style="top:45px;font-size:5.800px;color:#8085a6;left:653.00px;">Import</div>
<div class="t" style="top:45px;font-size:5.800px;color:#8085a6;left:698.25px;">Filter</div>
<div class="t" style="top:45px;font-size:5.674px;color:#fff;left:739.50px;">Download Report</div>
<div class="t" style="top:81px;font-size:8.170px;color:#fff;font-weight:bold;left:227.00px;">Sonia Taylor!</div>
<div class="t" style="top:98px;font-size:5.805px;color:#e2e0f6;left:227.00px;">You have two projects to finish, you had completed <b style="color:#ff9b48">57%</b> from your montly level, Keep going to your level</div>
<div class="t" style="top:137px;font-size:5.037px;color:#1d212f;font-weight:bold;left:116.50px;">TOTAL REVENUE</div>
<div class="t" style="top:145px;font-size:5.039px;color:#a3a7c2;left:116.50px;">Previous month vs this months</div>
<div class="t" style="top:156px;font-size:9.002px;color:#1d212f;font-weight:bold;left:116.50px;">$5,900.00</div>
<div class="t" style="top:172px;font-size:4.697px;color:#a3a7c2;left:116.50px;"><b style="color:#19b159;font-weight:normal">55%</b> Higher</div>
<div class="t" style="top:137px;font-size:5.035px;color:#1d212f;font-weight:bold;left:271.00px;">NEW EMPLOYEES</div>
<div class="t" style="top:145px;font-size:5.015px;color:#a3a7c2;left:271.00px;">Employees joined this month</div>
<div class="t" style="top:156px;font-size:9.227px;color:#1d212f;font-weight:bold;left:271.00px;">15</div>
<div class="t" style="top:172px;font-size:4.713px;color:#a3a7c2;left:271.00px;"><b style="color:#19b159;font-weight:normal">5%</b> Increased</div>
<div class="t" style="top:137px;font-size:5.116px;color:#1d212f;font-weight:bold;left:425.75px;">TOTAL EXPENSES</div>
<div class="t" style="top:145px;font-size:5.057px;color:#a3a7c2;left:425.75px;">Previous month vs this months</div>
<div class="t" style="top:156px;font-size:8.921px;color:#1d212f;font-weight:bold;left:425.75px;">$8,500</div>
<div class="t" style="top:172px;font-size:4.659px;color:#a3a7c2;left:425.75px;"><b style="color:#f16d75;font-weight:normal">12%</b> Decrease</div>
<div class="t" style="top:207px;font-size:5.393px;color:#1d212f;font-weight:bold;left:116.50px;">PROJECT BUDGET</div>
<div class="t" style="top:217px;font-size:5.045px;color:#a3a7c2;left:116.50px;">The Project Budget is a tool used by project managers to estimate the total cost of a project</div>
<div class="t" style="top:238px;font-size:4.969px;color:#373d3f;font-weight:bold;left:300.50px;">Total Budget</div>
<div class="t" style="top:237px;font-size:5.038px;color:#373d3f;font-weight:bold;left:343.00px;">Amount Used</div>
<div class="t" style="top:252px;font-size:4.100px;color:#8c90ad;right:669.00px;">100</div>
<div class="t" style="top:271px;font-size:4.100px;color:#8c90ad;right:669.00px;">80</div>
<div class="t" style="top:291px;font-size:4.100px;color:#8c90ad;right:669.00px;">60</div>
<div class="t" style="top:310px;font-size:4.100px;color:#8c90ad;right:669.00px;">40</div>
<div class="t" style="top:329px;font-size:4.100px;color:#8c90ad;right:669.00px;">20</div>
<div class="t" style="top:349px;font-size:4.100px;color:#8c90ad;right:669.00px;">0</div>
<div class="t" style="top:358px;font-size:4.900px;color:#a6aac3;left:135.20px;transform:translateX(-50%);">Jan</div>
<div class="t" style="top:358px;font-size:4.900px;color:#a6aac3;left:171.85px;transform:translateX(-50%);">Feb</div>
<div class="t" style="top:358px;font-size:4.900px;color:#a6aac3;left:208.50px;transform:translateX(-50%);">Mar</div>
<div class="t" style="top:358px;font-size:4.900px;color:#a6aac3;left:245.15px;transform:translateX(-50%);">Apr</div>
<div class="t" style="top:358px;font-size:4.900px;color:#a6aac3;left:281.80px;transform:translateX(-50%);">May</div>
<div class="t" style="top:358px;font-size:4.900px;color:#a6aac3;left:318.45px;transform:translateX(-50%);">Jun</div>
<div class="t" style="top:358px;font-size:4.900px;color:#a6aac3;left:355.10px;transform:translateX(-50%);">Jul</div>
<div class="t" style="top:358px;font-size:4.900px;color:#a6aac3;left:391.75px;transform:translateX(-50%);">Aug</div>
<div class="t" style="top:358px;font-size:4.900px;color:#a6aac3;left:428.40px;transform:translateX(-50%);">Sep</div>
<div class="t" style="top:358px;font-size:4.900px;color:#a6aac3;left:465.05px;transform:translateX(-50%);">Oct</div>
<div class="t" style="top:358px;font-size:4.900px;color:#a6aac3;left:501.70px;transform:translateX(-50%);">Nov</div>
<div class="t" style="top:358px;font-size:4.900px;color:#a6aac3;left:538.35px;transform:translateX(-50%);">Dec</div>
<div class="t" style="top:407px;font-size:5.527px;color:#1d212f;font-weight:bold;left:116.50px;">TODAY TASKS</div>
<div class="t" style="top:421px;font-size:4.777px;color:#a3a7c2;left:116.50px;">UX UI &amp; Backend Developement.</div>
<div class="t" style="top:440px;font-size:5.829px;color:#2b2f42;left:116.50px;">Project-Budget</div>
<div class="t" style="top:456px;font-size:10.460px;color:#6259ca;font-weight:bold;left:116.50px;">$5,240</div>
<div class="t" style="top:471px;font-size:5.372px;color:#a3a7c2;left:116.50px;">May 28 - June 01 (2018)</div>
<div class="t" style="top:409px;font-size:5.380px;color:#8d91ae;left:260.25px;">Project</div>
<div class="t" style="top:409px;font-size:5.346px;color:#a9adc5;left:291.75px;">Inprogress</div>
<div class="t" style="top:454px;font-size:7.370px;color:#1d212f;font-weight:bold;left:269.40px;transform:translateX(-50%);">50%</div>
<div class="t" style="top:405px;font-size:5.635px;color:#1d212f;font-weight:bold;left:348.25px;">TOP INQUIRIES</div>
<div class="t" style="top:415px;font-size:5.085px;color:#a3a7c2;left:348.25px;">project work involves a group of students investigating.</div>
<div class="t" style="top:435px;font-size:5.859px;color:#2b2f42;left:348.25px;">Brand identity</div>
<div class="t" style="top:435px;font-size:5.168px;color:#1d212f;font-weight:bold;left:513.75px;">24.75%</div>
<div class="t" style="top:453px;font-size:5.606px;color:#2b2f42;left:348.25px;">UI &amp; UX design</div>
<div class="t" style="top:454px;font-size:5.168px;color:#1d212f;font-weight:bold;left:513.75px;">12.34%</div>
<div class="t" style="top:473px;font-size:5.895px;color:#2b2f42;left:348.25px;">Product design</div>
<div class="t" style="top:473px;font-size:5.168px;color:#1d212f;font-weight:bold;left:513.75px;">12.75%</div>
<div class="t" style="top:513px;font-size:5.580px;color:#1d212f;font-weight:bold;left:116.50px;">TASKS</div>
<div class="t" style="top:521px;font-size:5.015px;color:#a3a7c2;left:116.50px;">A task is accomplished by a set deadline, and must contribute toward work-related objectives.</div>
<div class="t" style="top:520px;font-size:5.500px;color:#b7bbd0;left:431.00px;">Search here...</div>
<div class="t" style="top:521px;font-size:4.582px;color:#fff;font-weight:bold;left:524.25px;">Sort by</div>
<div class="t" style="top:543px;font-size:5.007px;color:#1d212f;font-weight:bold;left:125.00px;">TASK</div>
<div class="t" style="top:543px;font-size:5.208px;color:#1d212f;font-weight:bold;left:244.25px;">TEAM</div>
<div class="t" style="top:543px;font-size:5.079px;color:#1d212f;font-weight:bold;left:322.00px;">OPEN TASK</div>
<div class="t" style="top:543px;font-size:5.064px;color:#1d212f;font-weight:bold;left:387.00px;">PRORITY</div>
<div class="t" style="top:543px;font-size:5.194px;color:#1d212f;font-weight:bold;left:472.00px;">STATUS</div>
<div class="t" style="top:559px;font-size:5.856px;color:#1d212f;left:140.75px;-webkit-text-stroke:.06px #1d212f">Evaluating the design</div>
<div class="t" style="top:561px;font-size:5.625px;color:#3c4054;left:336.90px;transform:translateX(-50%);">18</div>
<div class="t" style="top:561px;font-size:5.957px;color:#6259ca;left:387.00px;">High</div>
<div class="t" style="top:561px;font-size:4.309px;color:#6259ca;font-weight:bold;left:477.00px;">Completed</div>
<div class="t" style="top:580px;font-size:5.843px;color:#1d212f;left:140.75px;-webkit-text-stroke:.06px #1d212f">Generate ideas for design</div>
<div class="t" style="top:582px;font-size:5.625px;color:#3c4054;left:336.90px;transform:translateX(-50%);">34</div>
<div class="t" style="top:582px;font-size:5.979px;color:#f2528a;left:387.00px;">Normal</div>
<div class="t" style="top:582px;font-size:4.248px;color:#ff9b21;font-weight:bold;left:477.00px;">Pending</div>
<div class="t" style="top:601px;font-size:5.886px;color:#1d212f;left:140.75px;-webkit-text-stroke:.06px #1d212f">Define the problem</div>
<div class="t" style="top:604px;font-size:5.625px;color:#3c4054;left:336.90px;transform:translateX(-50%);">25</div>
<div class="t" style="top:602px;font-size:6.001px;color:#ff9b21;left:387.00px;">Low</div>
<div class="t" style="top:604px;font-size:4.309px;color:#6259ca;font-weight:bold;left:477.00px;">Completed</div>
<div class="t" style="top:623px;font-size:5.891px;color:#1d212f;left:140.75px;-webkit-text-stroke:.06px #1d212f">Empathize with users</div>
<div class="t" style="top:625px;font-size:5.625px;color:#3c4054;left:336.90px;transform:translateX(-50%);">37</div>
<div class="t" style="top:625px;font-size:5.957px;color:#6259ca;left:387.00px;">High</div>
<div class="t" style="top:625px;font-size:4.319px;color:#f34343;font-weight:bold;left:477.00px;">Rejected</div>
<div class="t" style="top:89px;font-size:5.533px;color:#1d212f;font-weight:bold;left:578.00px;">RECENT TRANSACTIONS</div>
<div class="t" style="top:99px;font-size:5.063px;color:#a3a7c2;left:578.00px;">Projects where development work is on completion</div>
<div class="t" style="top:120px;font-size:5.860px;color:#1d212f;left:601.75px;-webkit-text-stroke:.16px #1d212f">Flicker</div>
<div class="t" style="top:130px;font-size:5.426px;color:#a3a7c2;left:601.75px;">App improvement</div>
<div class="t" style="top:119px;font-size:6.431px;color:#1d212f;font-weight:bold;right:25.00px;">$45.234</div>
<div class="t" style="top:130px;font-size:5.819px;color:#a3a7c2;right:16.75px;">12 Jan 2020</div>
<div class="t" style="top:151px;font-size:5.954px;color:#1d212f;left:601.75px;-webkit-text-stroke:.16px #1d212f">Intoxica</div>
<div class="t" style="top:161px;font-size:5.494px;color:#a3a7c2;left:601.75px;">Milestone</div>
<div class="t" style="top:151px;font-size:6.431px;color:#1d212f;font-weight:bold;right:25.00px;">$23.452</div>
<div class="t" style="top:161px;font-size:5.910px;color:#a3a7c2;right:16.75px;">23 Jan 2020</div>
<div class="t" style="top:181px;font-size:6.048px;color:#1d212f;left:601.75px;-webkit-text-stroke:.16px #1d212f">Digiwatt</div>
<div class="t" style="top:192px;font-size:5.356px;color:#a3a7c2;left:601.75px;">Sales executive</div>
<div class="t" style="top:182px;font-size:6.431px;color:#1d212f;font-weight:bold;right:25.00px;">$78.001</div>
<div class="t" style="top:193px;font-size:5.897px;color:#a3a7c2;right:16.75px;">4 Apr 2020</div>
<div class="t" style="top:213px;font-size:5.860px;color:#1d212f;left:601.75px;-webkit-text-stroke:.16px #1d212f">Flicker</div>
<div class="t" style="top:223px;font-size:5.481px;color:#a3a7c2;left:601.75px;">Milestone2</div>
<div class="t" style="top:213px;font-size:6.431px;color:#1d212f;font-weight:bold;right:25.00px;">$37.285</div>
<div class="t" style="top:224px;font-size:5.897px;color:#a3a7c2;right:16.75px;">4 Apr 2020</div>
<div class="t" style="top:245px;font-size:5.860px;color:#1d212f;left:601.75px;-webkit-text-stroke:.16px #1d212f">Flicker</div>
<div class="t" style="top:255px;font-size:5.426px;color:#a3a7c2;left:601.75px;">App improvement</div>
<div class="t" style="top:244px;font-size:6.431px;color:#1d212f;font-weight:bold;right:25.00px;">$25.341</div>
<div class="t" style="top:255px;font-size:5.897px;color:#a3a7c2;right:16.75px;">4 Apr 2020</div>
<div class="t" style="top:294px;font-size:5.149px;color:#1d212f;font-weight:bold;left:580.00px;">PROJECT LAUNCH</div>
<div class="t" style="top:303px;font-size:5.076px;color:#a3a7c2;left:580.00px;">the project is going to launch</div>
<div class="t" style="top:314px;font-size:9.707px;color:#6259ca;font-weight:bold;left:580.00px;">145 days</div>
<div class="t" style="top:329px;font-size:5.803px;color:#a3a7c2;left:580.00px;">12 Monday, Oct 2020</div>
<div class="t" style="top:367px;font-size:5.472px;color:#1d212f;font-weight:bold;left:580.50px;">ON GOING PROJECTS</div>
<div class="t" style="top:377px;font-size:5.040px;color:#a3a7c2;left:580.50px;">Projects where development work is on completion</div>
<div class="t" style="top:402px;font-size:5.890px;color:#4a4e66;left:617.00px;">Design team</div>
<div class="t" style="top:420px;font-size:4.109px;color:#6259ca;font-weight:bold;left:587.90px;">25 August 2020</div>
<div class="t" style="top:430px;font-size:5.920px;color:#1d212f;left:587.90px;-webkit-text-stroke:.06px #1d212f">Mobile app design</div>
<div class="t" style="top:471px;font-size:5.818px;color:#4a4e66;left:587.90px;">Design team</div>
<div class="t" style="top:486px;font-size:4.114px;color:#6259ca;font-weight:bold;left:587.90px;">12 JUNE 2020</div>
<div class="t" style="top:495px;font-size:5.761px;color:#1d212f;left:587.90px;-webkit-text-stroke:.06px #1d212f">Website Redesign</div>
<div class="t" style="top:543px;font-size:5.422px;color:#1d212f;font-weight:bold;left:580.50px;">WEBSITE DESIGN</div>
<div class="t" style="top:553px;font-size:6.331px;color:#a3a7c2;left:580.50px;">Task completed : 7/10</div>
<div class="t" style="top:543px;font-size:5.375px;color:#a3a7c2;left:754.75px;">Running</div>
<div class="t" style="top:625px;font-size:4.900px;color:#a6aac3;left:602.50px;transform:translateX(-50%);">Jan</div>
<div class="t" style="top:625px;font-size:4.900px;color:#a6aac3;left:629.37px;transform:translateX(-50%);">Feb</div>
<div class="t" style="top:625px;font-size:4.900px;color:#a6aac3;left:656.24px;transform:translateX(-50%);">Mar</div>
<div class="t" style="top:625px;font-size:4.900px;color:#a6aac3;left:683.11px;transform:translateX(-50%);">Apr</div>
<div class="t" style="top:625px;font-size:4.900px;color:#a6aac3;left:709.98px;transform:translateX(-50%);">May</div>
<div class="t" style="top:625px;font-size:4.900px;color:#a6aac3;left:736.85px;transform:translateX(-50%);">Jun</div>
<div class="t" style="top:625px;font-size:4.900px;color:#a6aac3;left:763.72px;transform:translateX(-50%);">Jul</div>
</body></html>
